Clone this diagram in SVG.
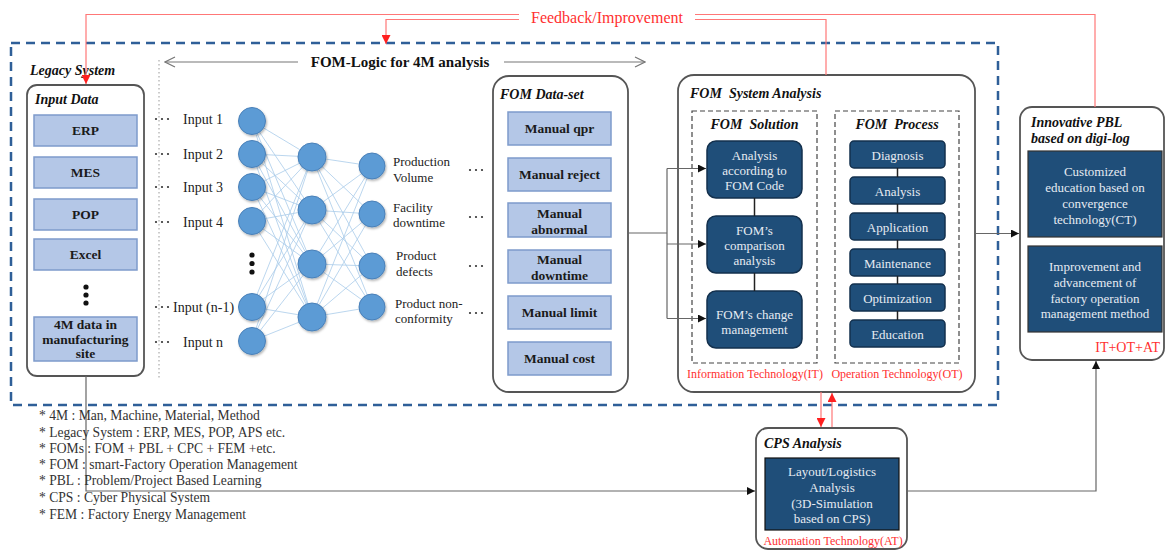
<svg xmlns="http://www.w3.org/2000/svg" width="1166" height="552" viewBox="0 0 1166 552">
<style>
text{font-family:"Liberation Serif","Times New Roman",serif}
.ttl{font-weight:bold;font-style:italic;font-size:14px;fill:#111}
.lb{fill:#b4c7e7;stroke:#7e9bcb;stroke-width:1.5}
.lbt{font-weight:bold;font-size:13.5px;fill:#1a1a1a;text-anchor:middle}
.db{fill:#1f4e79;stroke:#13304d;stroke-width:1.5}
.dbt{font-size:13px;fill:#e6ebf2;text-anchor:middle}
.cont{fill:#fff;stroke:#555;stroke-width:1.8}
.dsh{fill:none;stroke:#444;stroke-width:1.2;stroke-dasharray:5 3}
.red{font-size:12px;fill:#ff3030}
.node{fill:#5b9bd5;stroke:#4a80b8;stroke-width:1}
.edge{stroke:#a9cbea;stroke-width:0.8}
.conn{fill:none;stroke:#666;stroke-width:1.2}
.lnk{fill:none;stroke:#222;stroke-width:1.5}
.rl{fill:none;stroke:#ff7777;stroke-width:1.2}
.inl{font-size:14px;fill:#222}
.out{font-size:13px;fill:#222}
.note{font-size:13.6px;fill:#333}
.dot{fill:#333}
</style>
<defs>
<marker id="ab" viewBox="0 0 10 10" refX="10" refY="5" markerWidth="8" markerHeight="8" markerUnits="userSpaceOnUse" orient="auto"><path d="M0,0 L10,5 L0,10 z" fill="#111"/></marker>
<marker id="ar" viewBox="0 0 10 10" refX="10" refY="5" markerWidth="9" markerHeight="9" markerUnits="userSpaceOnUse" orient="auto"><path d="M0,0 L10,5 L0,10 z" fill="#ff2020"/></marker>
<marker id="ao" viewBox="0 0 12 12" refX="11" refY="6" markerWidth="12" markerHeight="12" markerUnits="userSpaceOnUse" orient="auto"><path d="M1,1 L11,6 L1,11" fill="none" stroke="#777" stroke-width="1.2"/></marker>
<filter id="sh" x="-30%" y="-30%" width="160%" height="160%"><feDropShadow dx="1" dy="1.5" stdDeviation="1" flood-color="#000" flood-opacity="0.3"/></filter>
</defs>

<!-- outer dashed frame -->
<rect x="11" y="43" width="987" height="362" fill="none" stroke="#2f5f98" stroke-width="2.5" stroke-dasharray="9 6"/>

<!-- FOM-Logic header -->
<g id="fom-logic">
<text x="400" y="67" font-size="15" font-weight="bold" text-anchor="middle" fill="#111">FOM-Logic for 4M analysis</text>
<line x1="298" y1="62" x2="165" y2="62" stroke="#777" stroke-width="1.2" marker-end="url(#ao)"/>
<line x1="504" y1="62" x2="645" y2="62" stroke="#777" stroke-width="1.2" marker-end="url(#ao)"/>
<line x1="159" y1="60" x2="159" y2="380" stroke="#999" stroke-width="1" stroke-dasharray="1.5 2.5"/>
</g>

<!-- Legacy system / input data -->
<g id="legacy">
<text class="ttl" x="30" y="75" font-size="15.5">Legacy System</text>
<rect class="cont" x="27" y="85" width="117" height="291" rx="10"/>
<text class="ttl" x="35" y="104" font-size="15">Input Data</text>
<rect class="lb" x="34" y="115" width="103" height="31"/><text class="lbt" x="85.5" y="135">ERP</text>
<rect class="lb" x="34" y="157" width="103" height="31"/><text class="lbt" x="85.5" y="177">MES</text>
<rect class="lb" x="34" y="199" width="103" height="31"/><text class="lbt" x="85.5" y="219">POP</text>
<rect class="lb" x="34" y="239" width="103" height="31"/><text class="lbt" x="85.5" y="259">Excel</text>
<circle cx="86" cy="287" r="2.6" fill="#111"/><circle cx="86" cy="295" r="2.6" fill="#111"/><circle cx="86" cy="303" r="2.6" fill="#111"/>
<rect class="lb" x="34" y="317" width="103" height="44"/>
<text class="lbt" x="85.5" y="328.5">4M data in</text>
<text class="lbt" x="85.5" y="343.5">manufacturing</text>
<text class="lbt" x="85.5" y="358">site</text>
</g>

<!-- Neural network -->
<g id="neural-net">
<g class="edge">
<line x1="252" y1="121" x2="312" y2="157"/><line x1="252" y1="121" x2="312" y2="210"/><line x1="252" y1="121" x2="312" y2="264"/><line x1="252" y1="121" x2="312" y2="317"/>
<line x1="252" y1="154" x2="312" y2="157"/><line x1="252" y1="154" x2="312" y2="210"/><line x1="252" y1="154" x2="312" y2="264"/><line x1="252" y1="154" x2="312" y2="317"/>
<line x1="252" y1="187" x2="312" y2="157"/><line x1="252" y1="187" x2="312" y2="210"/><line x1="252" y1="187" x2="312" y2="264"/><line x1="252" y1="187" x2="312" y2="317"/>
<line x1="252" y1="221" x2="312" y2="157"/><line x1="252" y1="221" x2="312" y2="210"/><line x1="252" y1="221" x2="312" y2="264"/><line x1="252" y1="221" x2="312" y2="317"/>
<line x1="252" y1="307" x2="312" y2="157"/><line x1="252" y1="307" x2="312" y2="210"/><line x1="252" y1="307" x2="312" y2="264"/><line x1="252" y1="307" x2="312" y2="317"/>
<line x1="252" y1="341" x2="312" y2="157"/><line x1="252" y1="341" x2="312" y2="210"/><line x1="252" y1="341" x2="312" y2="264"/><line x1="252" y1="341" x2="312" y2="317"/>
<line x1="312" y1="157" x2="372" y2="166"/><line x1="312" y1="157" x2="372" y2="214"/><line x1="312" y1="157" x2="372" y2="266"/><line x1="312" y1="157" x2="372" y2="307"/>
<line x1="312" y1="210" x2="372" y2="166"/><line x1="312" y1="210" x2="372" y2="214"/><line x1="312" y1="210" x2="372" y2="266"/><line x1="312" y1="210" x2="372" y2="307"/>
<line x1="312" y1="264" x2="372" y2="166"/><line x1="312" y1="264" x2="372" y2="214"/><line x1="312" y1="264" x2="372" y2="266"/><line x1="312" y1="264" x2="372" y2="307"/>
<line x1="312" y1="317" x2="372" y2="166"/><line x1="312" y1="317" x2="372" y2="214"/><line x1="312" y1="317" x2="372" y2="266"/><line x1="312" y1="317" x2="372" y2="307"/>
</g>
<g class="node" filter="url(#sh)">
<circle cx="252" cy="121" r="13.5"/><circle cx="252" cy="154" r="13.5"/><circle cx="252" cy="187" r="13.5"/><circle cx="252" cy="221" r="13.5"/><circle cx="252" cy="307" r="13.5"/><circle cx="252" cy="341" r="13.5"/>
<circle cx="312" cy="157" r="14"/><circle cx="312" cy="210" r="14"/><circle cx="312" cy="264" r="14"/><circle cx="312" cy="317" r="14"/>
<circle cx="372" cy="166" r="13"/><circle cx="372" cy="214" r="13"/><circle cx="372" cy="266" r="13"/><circle cx="372" cy="307" r="13"/>
</g>
<circle cx="252" cy="255" r="2.6" fill="#111"/><circle cx="252" cy="263.5" r="2.6" fill="#111"/><circle cx="252" cy="272" r="2.6" fill="#111"/>
<g class="dot">
<circle cx="156" cy="119" r="1.1"/><circle cx="162" cy="119" r="1.1"/><circle cx="168" cy="119" r="1.1"/>
<circle cx="156" cy="154" r="1.1"/><circle cx="162" cy="154" r="1.1"/><circle cx="168" cy="154" r="1.1"/>
<circle cx="156" cy="187" r="1.1"/><circle cx="162" cy="187" r="1.1"/><circle cx="168" cy="187" r="1.1"/>
<circle cx="156" cy="222" r="1.1"/><circle cx="162" cy="222" r="1.1"/><circle cx="168" cy="222" r="1.1"/>
<circle cx="156" cy="307" r="1.1"/><circle cx="162" cy="307" r="1.1"/><circle cx="168" cy="307" r="1.1"/>
<circle cx="156" cy="342" r="1.1"/><circle cx="162" cy="342" r="1.1"/><circle cx="168" cy="342" r="1.1"/>
<circle cx="470" cy="170" r="1.1"/><circle cx="476" cy="170" r="1.1"/><circle cx="482" cy="170" r="1.1"/>
<circle cx="470" cy="217" r="1.1"/><circle cx="476" cy="217" r="1.1"/><circle cx="482" cy="217" r="1.1"/>
<circle cx="470" cy="266" r="1.1"/><circle cx="476" cy="266" r="1.1"/><circle cx="482" cy="266" r="1.1"/>
<circle cx="470" cy="313" r="1.1"/><circle cx="476" cy="313" r="1.1"/><circle cx="482" cy="313" r="1.1"/>
</g>
<text class="inl" x="183" y="124">Input 1</text>
<text class="inl" x="183" y="159">Input 2</text>
<text class="inl" x="183" y="192">Input 3</text>
<text class="inl" x="183" y="227">Input 4</text>
<text class="inl" x="173" y="312">Input (n-1)</text>
<text class="inl" x="183" y="347">Input n</text>
<text class="out" x="393" y="166">Production</text><text class="out" x="393" y="181.5">Volume</text>
<text class="out" x="393" y="211.5">Facility</text><text class="out" x="393" y="227">downtime</text>
<text class="out" x="396" y="259.5">Product</text><text class="out" x="396" y="275.5">defects</text>
<text class="out" x="395" y="307.5">Product non-</text><text class="out" x="395" y="322.5">conformity</text>
</g>

<!-- FOM Data-set -->
<g id="dataset">
<rect class="cont" x="493" y="76" width="135" height="316" rx="16"/>
<text class="ttl" x="500" y="99">FOM Data-set</text>
<rect class="lb" x="508" y="112" width="103" height="33"/><text class="lbt" x="559.5" y="133">Manual qpr</text>
<rect class="lb" x="508" y="158" width="103" height="33"/><text class="lbt" x="559.5" y="179">Manual reject</text>
<rect class="lb" x="508" y="203" width="103" height="34"/><text class="lbt" x="559.5" y="217.5">Manual</text><text class="lbt" x="559.5" y="233.5">abnormal</text>
<rect class="lb" x="508" y="250" width="103" height="33"/><text class="lbt" x="559.5" y="263.5">Manual</text><text class="lbt" x="559.5" y="280">downtime</text>
<rect class="lb" x="508" y="296" width="103" height="33"/><text class="lbt" x="559.5" y="317">Manual limit</text>
<rect class="lb" x="508" y="342" width="103" height="33"/><text class="lbt" x="559.5" y="363">Manual cost</text>
</g>

<!-- FOM System Analysis -->
<g id="system-analysis">
<rect class="cont" x="678" y="75" width="297" height="317" rx="16"/>
<text class="ttl" x="690" y="98">FOM&#160; System Analysis</text>
<rect class="dsh" x="692" y="111" width="125" height="252"/>
<text class="ttl" x="754.5" y="129" text-anchor="middle">FOM&#160; Solution</text>
<rect class="dsh" x="835" y="111" width="124" height="252"/>
<text class="ttl" x="897" y="129" text-anchor="middle">FOM&#160; Process</text>
<text class="red" x="755" y="378" text-anchor="middle">Information Technology(IT)</text>
<text class="red" x="897" y="378" text-anchor="middle">Operation Technology(OT)</text>
</g>

<g id="solution-nodes">
<rect class="db" x="707" y="141" width="95" height="57" rx="9"/>
<text class="dbt" x="754.5" y="159.5">Analysis</text><text class="dbt" x="754.5" y="174.5">according to</text><text class="dbt" x="754.5" y="190">FOM Code</text>
<rect class="db" x="707" y="216" width="95" height="57" rx="9"/>
<text class="dbt" x="754.5" y="234.5">FOM’s</text><text class="dbt" x="754.5" y="249.5">comparison</text><text class="dbt" x="754.5" y="265">analysis</text>
<rect class="db" x="707" y="291" width="95" height="57" rx="9"/>
<text class="dbt" x="754.5" y="318.5">FOM’s change</text><text class="dbt" x="754.5" y="334">management</text>
</g>

<g id="process-nodes">
<rect class="db" x="850" y="141" width="95" height="27" rx="4"/><text class="dbt" x="897.5" y="160">Diagnosis</text>
<rect class="db" x="850" y="177" width="95" height="27" rx="4"/><text class="dbt" x="897.5" y="195.5">Analysis</text>
<rect class="db" x="850" y="213" width="95" height="27" rx="4"/><text class="dbt" x="897.5" y="231.5">Application</text>
<rect class="db" x="850" y="249" width="95" height="27" rx="4"/><text class="dbt" x="897.5" y="267.5">Maintenance</text>
<rect class="db" x="850" y="284" width="95" height="27" rx="4"/><text class="dbt" x="897.5" y="303">Optimization</text>
<rect class="db" x="850" y="320" width="95" height="27" rx="4"/><text class="dbt" x="897.5" y="339">Education</text>
</g>

<!-- Innovative PBL -->
<g id="innovative-pbl">
<rect class="cont" x="1020" y="107" width="144" height="253" rx="12"/>
<text class="ttl" x="1031" y="126.5">Innovative PBL</text>
<text class="ttl" x="1031" y="143">based on digi-log</text>
<rect x="1028" y="151" width="134" height="86" fill="#1f4e79" stroke="#333" stroke-width="1.2"/>
<text class="dbt" x="1095" y="176">Customized</text><text class="dbt" x="1095" y="192">education based on</text><text class="dbt" x="1095" y="208">convergence</text><text class="dbt" x="1095" y="224">technology(CT)</text>
<rect x="1028" y="246" width="134" height="86" fill="#1f4e79" stroke="#333" stroke-width="1.2"/>
<text class="dbt" x="1095" y="271">Improvement and</text><text class="dbt" x="1095" y="286.5">advancement of</text><text class="dbt" x="1095" y="302.5">factory operation</text><text class="dbt" x="1095" y="317.5">management method</text>
<text x="1160" y="351.5" font-size="14" fill="#ff3030" text-anchor="end">IT+OT+AT</text>
</g>

<!-- CPS Analysis -->
<g id="cps-analysis">
<rect class="cont" x="756" y="428" width="151" height="121" rx="12"/>
<text class="ttl" x="764" y="447.5" font-size="13.5">CPS Analysis</text>
<rect x="765" y="458" width="134" height="72" fill="#1f4e79" stroke="#111" stroke-width="1.2"/>
<text class="dbt" x="832" y="476">Layout/Logistics</text><text class="dbt" x="832" y="491.5">Analysis</text><text class="dbt" x="832" y="507.5">(3D-Simulation</text><text class="dbt" x="832" y="522.5">based on CPS)</text>
<text class="red" x="833" y="545" text-anchor="middle">Automation Technology(AT)</text>
</g>

<!-- connectors -->
<g id="connectors">
<polyline class="conn" points="628,233 667,233"/>
<line class="conn" x1="667" y1="168.5" x2="667" y2="318.5"/>
<line class="conn" x1="667" y1="168.5" x2="706" y2="168.5" marker-end="url(#ab)"/>
<line class="conn" x1="667" y1="244" x2="706" y2="244" marker-end="url(#ab)"/>
<line class="conn" x1="667" y1="318.5" x2="706" y2="318.5" marker-end="url(#ab)"/>
<line class="lnk" x1="754.5" y1="198" x2="754.5" y2="216"/>
<line class="lnk" x1="754.5" y1="273" x2="754.5" y2="291"/>
<line class="lnk" x1="897.5" y1="168" x2="897.5" y2="177"/>
<line class="lnk" x1="897.5" y1="204" x2="897.5" y2="213"/>
<line class="lnk" x1="897.5" y1="240" x2="897.5" y2="249"/>
<line class="lnk" x1="897.5" y1="276" x2="897.5" y2="284"/>
<line class="lnk" x1="897.5" y1="311" x2="897.5" y2="320"/>
<line class="conn" x1="975" y1="233.5" x2="1019" y2="233.5" marker-end="url(#ab)"/>
<polyline class="conn" points="86,376 86,491 755,491" stroke="#888" marker-end="url(#ab)"/>
<polyline class="conn" points="907,491 1096,491 1096,361" stroke="#888" marker-end="url(#ab)"/>
<line class="rl" x1="821" y1="392" x2="821" y2="427" marker-end="url(#ar)"/>
<line class="rl" x1="832" y1="427" x2="832" y2="393" marker-end="url(#ar)"/>
<polyline class="rl" points="519,14.5 86,14.5 86,84" marker-end="url(#ar)"/>
<polyline class="rl" points="695,14.5 1095,14.5 1095,107"/>
<polyline class="rl" points="519,19.5 386,19.5 386,44" marker-end="url(#ar)"/>
<polyline class="rl" points="695,19.5 826,19.5 826,75"/>
</g>
<text x="607" y="22.5" font-size="16" fill="#ff3030" text-anchor="middle">Feedback/Improvement</text>

<!-- notes -->
<g id="notes">
<text class="note" x="39" y="419.5">* 4M : Man, Machine, Material, Method</text>
<text class="note" x="39" y="436.5">* Legacy System : ERP, MES, POP, APS etc.</text>
<text class="note" x="39" y="452.5">* FOMs : FOM + PBL + CPC + FEM +etc.</text>
<text class="note" x="39" y="468.5">* FOM : smart-Factory Operation Management</text>
<text class="note" x="39" y="484.5">* PBL : Problem/Project Based Learning</text>
<text class="note" x="39" y="501.5">* CPS : Cyber Physical System</text>
<text class="note" x="39" y="518.5">* FEM : Factory Energy Management</text>
</g>
</svg>
